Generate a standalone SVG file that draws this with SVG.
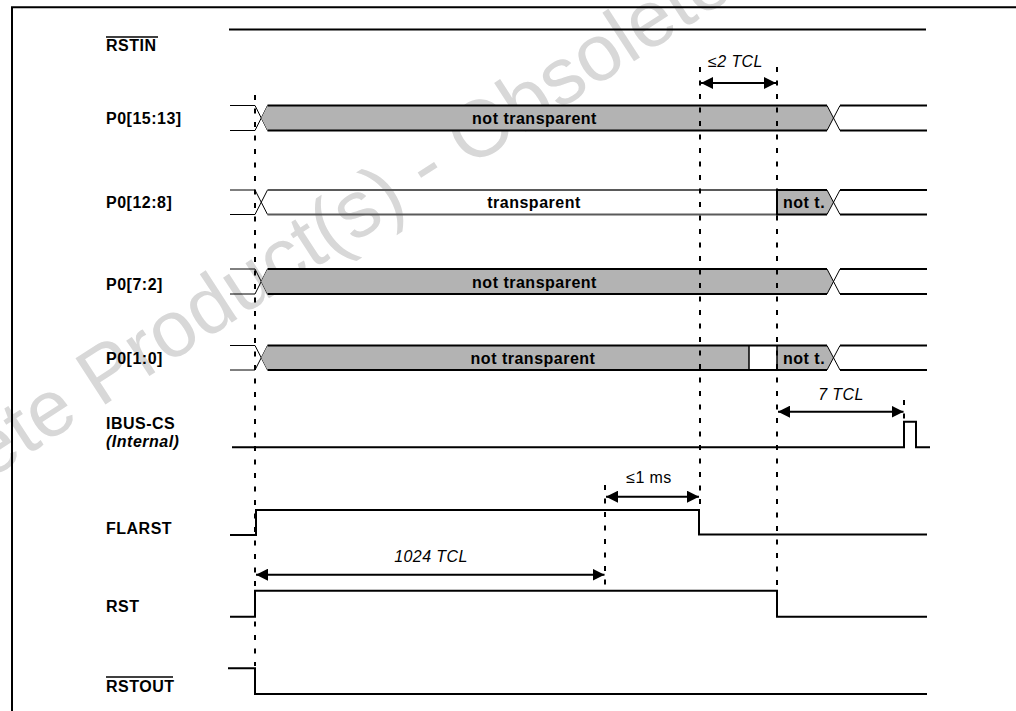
<svg xmlns="http://www.w3.org/2000/svg" width="1016" height="711" viewBox="0 0 1016 711">
<style>
.lbl{font-family:"Liberation Sans",Arial,sans-serif;font-size:16px;font-weight:bold;letter-spacing:0.5px;fill:#000}
.bus{font-family:"Liberation Sans",Arial,sans-serif;font-size:16px;font-weight:bold;letter-spacing:0.5px;fill:#000}
.dim{font-family:"Liberation Sans",Arial,sans-serif;font-size:16px;font-style:italic;letter-spacing:0.4px;fill:#000}
.dimr{font-family:"Liberation Sans",Arial,sans-serif;font-size:16px;letter-spacing:0.4px;fill:#000}
.sig{fill:none;stroke:#000;stroke-width:2}
.thin{fill:none;stroke:#000;stroke-width:1}
.gfill{fill:#b3b3b3;stroke:none}
.edge{fill:none;stroke:#000;stroke-width:2}
.gedge{fill:none;stroke:#5a5a5a;stroke-width:2}
.dash{fill:none;stroke:#000;stroke-width:2;stroke-dasharray:5 8.5}
.arr{fill:none;stroke:#000;stroke-width:2;marker-start:url(#ah);marker-end:url(#ah)}
.wm{font-family:"Liberation Sans",Arial,sans-serif;font-size:80px;fill:#d8d8d8}
</style>
<defs>
<marker id="ah" viewBox="0 0 12 12" refX="12" refY="6" markerWidth="12" markerHeight="12" markerUnits="userSpaceOnUse" orient="auto-start-reverse">
<path d="M0,0 L12,6 L0,12 z" fill="#000"/>
</marker>
</defs>
<rect x="0" y="0" width="1016" height="711" fill="#fff"/>
<g id="watermark" transform="translate(100,408) rotate(-33)">
<text class="wm" x="-342.4" y="0">Obsolete Product(s) - Obsolete</text>
</g>
<g id="frame">
<path class="sig" d="M12,711 V7.3 H1016"/>
</g>
<g id="RSTIN">
<text class="lbl" x="106" y="51">RSTIN</text>
<line x1="106" y1="37" x2="158" y2="37" stroke="#000" stroke-width="1.3"/>
<line class="sig" x1="229" y1="29.5" x2="926" y2="29.5"/>
</g>
<g id="P0_15_13">
<text class="lbl" x="106" y="124">P0[15:13]</text>
<path class="thin" d="M230,105.5 H255 L267.5,130.5 M230,130.5 H255 L267.5,105.5"/>
<polygon class="gfill" points="261.25,118 267.5,105.5 827,105.5 833.5,118 827,130.5 267.5,130.5"/>
<path class="edge" d="M267.5,105.5 H827 M267.5,130.5 H827"/>
<path class="thin" d="M827,105.5 L840,130.5 M827,130.5 L840,105.5"/>
<path class="edge" d="M840,105.5 H927 M840,130.5 H927"/>
<text class="bus" x="534.5" y="124" text-anchor="middle">not transparent</text>
</g>
<g id="P0_12_8">
<text class="lbl" x="106" y="208">P0[12:8]</text>
<path class="thin" d="M230,190 H255 L267.5,214.5 M230,214.5 H255 L267.5,190"/>
<path class="gedge" d="M267.5,190 H777 M267.5,214.5 H777"/>
<polygon class="gfill" points="777,190 827,190 833.5,202.25 827,214.5 777,214.5"/>
<path class="edge" d="M777,190 H827 M777,214.5 H827"/>
<line x1="777" y1="189" x2="777" y2="215.5" stroke="#000" stroke-width="2"/>
<path class="thin" d="M827,190 L840,214.5 M827,214.5 L840,190"/>
<path class="edge" d="M840,190 H927 M840,214.5 H927"/>
<text class="bus" x="534" y="208" text-anchor="middle">transparent</text>
<text class="bus" x="783" y="207.5">not t.</text>
</g>
<g id="P0_7_2">
<text class="lbl" x="106" y="290">P0[7:2]</text>
<path class="thin" d="M230,269 H255 L267.5,294 M230,294 H255 L267.5,269"/>
<polygon class="gfill" points="261.25,281.5 267.5,269 827,269 833.5,281.5 827,294 267.5,294"/>
<path class="edge" d="M267.5,269 H827 M267.5,294 H827"/>
<path class="thin" d="M827,269 L840,294 M827,294 L840,269"/>
<path class="edge" d="M840,269 H927 M840,294 H927"/>
<text class="bus" x="534.5" y="287.5" text-anchor="middle">not transparent</text>
</g>
<g id="P0_1_0">
<text class="lbl" x="106" y="364">P0[1:0]</text>
<path class="thin" d="M230,345.5 H255 L267.5,370 M230,370 H255 L267.5,345.5"/>
<polygon class="gfill" points="261.25,357.75 267.5,345.5 749,345.5 749,370 267.5,370"/>
<polygon class="gfill" points="777,345.5 827,345.5 833.5,357.75 827,370 777,370"/>
<path class="edge" d="M267.5,345.5 H827 M267.5,370 H827"/>
<line x1="749" y1="345.5" x2="749" y2="370" stroke="#000" stroke-width="1.5"/>
<line x1="777" y1="345.5" x2="777" y2="370" stroke="#000" stroke-width="1.5"/>
<path class="thin" d="M827,345.5 L840,370 M827,370 L840,345.5"/>
<path class="edge" d="M840,345.5 H927 M840,370 H927"/>
<text class="bus" x="533" y="363.5" text-anchor="middle">not transparent</text>
<text class="bus" x="783" y="363.5">not t.</text>
</g>
<g id="IBUS_CS">
<text class="lbl" x="106" y="429">IBUS-CS</text>
<text class="lbl" x="106" y="447" font-style="italic">(Internal)</text>
<path class="sig" d="M232,447.3 H904 V421.7 H916 V447.3 H930"/>
</g>
<g id="FLARST">
<text class="lbl" x="106" y="534">FLARST</text>
<path class="sig" d="M230,535 H256 V510 H699 V534.5 H927"/>
</g>
<g id="RST">
<text class="lbl" x="106" y="612">RST</text>
<path class="sig" d="M230,616.7 H255 V590.7 H777 V616.7 H927"/>
</g>
<g id="RSTOUT">
<text class="lbl" x="106" y="692">RSTOUT</text>
<line x1="106" y1="677" x2="173" y2="677" stroke="#000" stroke-width="1.3"/>
<path class="sig" d="M228,668.3 H255 V694 H927"/>
</g>
<g id="connectors">
<line class="dash" x1="255" y1="95" x2="255" y2="666"/>
<line class="dash" x1="700" y1="67" x2="700" y2="510"/>
<line class="dash" x1="777" y1="67" x2="777" y2="590"/>
<line class="dash" x1="605" y1="485" x2="605" y2="590"/>
<line class="dash" x1="904" y1="400" x2="904" y2="421"/>
<line class="arr" x1="701" y1="83" x2="776" y2="83"/>
<line class="arr" x1="778" y1="411.7" x2="903.5" y2="411.7"/>
<line class="arr" x1="606" y1="496.7" x2="699" y2="496.7"/>
<line class="arr" x1="256" y1="574.7" x2="604.5" y2="574.7"/>
<text class="dim" x="735.5" y="66.5" text-anchor="middle">≤2 TCL</text>
<text class="dim" x="841" y="400" text-anchor="middle">7 TCL</text>
<text class="dimr" x="649" y="483.3" text-anchor="middle">≤1 ms</text>
<text class="dim" x="431" y="561.7" text-anchor="middle">1024 TCL</text>
</g>
</svg>
